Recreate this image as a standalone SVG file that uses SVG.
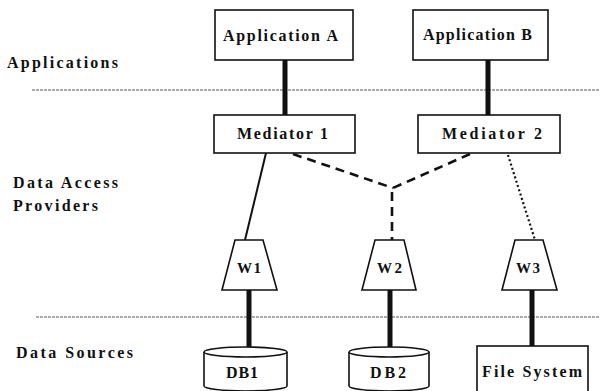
<svg xmlns="http://www.w3.org/2000/svg" width="600" height="391" viewBox="0 0 600 391">
<style>
text{font-family:"Liberation Serif","Times New Roman",serif;font-weight:bold;fill:#111}
.lbl{font-size:16px}
.box{fill:#fff;stroke:#111;stroke-width:1.6}
.sep{stroke:#555;stroke-width:1;stroke-dasharray:3,1}
.thick{stroke:#111;stroke-width:5}
.thin{stroke:#111;stroke-width:2;fill:none}
.dash{stroke:#111;stroke-width:2.6;stroke-dasharray:9,6;fill:none}
.dot{stroke:#111;stroke-width:2.2;stroke-dasharray:2,2.5;fill:none}
</style>
<rect width="600" height="391" fill="#fff"/>
<g id="layers">
<line class="sep" x1="32" y1="90" x2="600" y2="90"/>
<line class="sep" x1="36" y1="317" x2="600" y2="317"/>
<text class="lbl" x="7" y="68" font-size="17" textLength="111" lengthAdjust="spacing">Applications</text>
<text class="lbl" x="13" y="188" textLength="105" lengthAdjust="spacing">Data Access</text>
<text class="lbl" x="13" y="211" textLength="85" lengthAdjust="spacing">Providers</text>
<text class="lbl" x="16" y="358" textLength="117" lengthAdjust="spacing">Data Sources</text>
</g>
<g id="connectors">
<line class="thick" x1="285" y1="60" x2="285" y2="115"/>
<line class="thick" x1="488" y1="60" x2="488" y2="115"/>
<line class="thin" x1="266" y1="153" x2="245" y2="240"/>
<path class="dash" d="M293,154 L393,188"/>
<path class="dash" d="M470,154 L393,188"/>
<path class="dash" d="M392,192 L392,240"/>
<line class="dot" x1="508" y1="155" x2="535" y2="240"/>
<line class="thick" x1="249" y1="290" x2="249" y2="348"/>
<line class="thick" x1="390" y1="290" x2="390" y2="348"/>
<line class="thick" x1="532" y1="290" x2="532" y2="346"/>
</g>
<g id="appA">
<rect class="box" x="215" y="10" width="138" height="50"/>
<text class="lbl" x="223" y="41" textLength="115" lengthAdjust="spacing">Application A</text>
</g>
<g id="appB">
<rect class="box" x="413" y="10" width="135" height="50"/>
<text class="lbl" x="423" y="40" textLength="109" lengthAdjust="spacing">Application B</text>
</g>
<g id="med1">
<rect class="box" x="214" y="115" width="141" height="38"/>
<text class="lbl" x="237" y="139" textLength="91" lengthAdjust="spacing">Mediator 1</text>
</g>
<g id="med2">
<rect class="box" x="418" y="115" width="142" height="38"/>
<text class="lbl" x="442" y="139" textLength="100" lengthAdjust="spacing">Mediator 2</text>
</g>
<g id="w1">
<polygon class="box" points="235,240 263,240 277,290 222,290"/>
<text x="237" y="273" font-size="15" textLength="24" lengthAdjust="spacing">W1</text>
</g>
<g id="w2">
<polygon class="box" points="375,240 404,240 416,290 362,290"/>
<text x="377" y="273" font-size="15" textLength="25" lengthAdjust="spacing">W2</text>
</g>
<g id="w3">
<polygon class="box" points="515,240 543,240 557,290 502,290"/>
<text x="516" y="273" font-size="15" textLength="24" lengthAdjust="spacing">W3</text>
</g>
<g id="db1">
<path class="box" d="M204,352 L204,386 A41.5,5 0 0,0 287,386 L287,352"/>
<ellipse class="box" cx="245.5" cy="352" rx="41.5" ry="5"/>
<text class="lbl" x="226" y="378" textLength="32" lengthAdjust="spacing">DB1</text>
</g>
<g id="db2">
<path class="box" d="M349,352 L349,386 A40,5 0 0,0 429,386 L429,352"/>
<ellipse class="box" cx="389" cy="352" rx="40" ry="5"/>
<text class="lbl" x="370" y="378" textLength="36" lengthAdjust="spacing">DB2</text>
</g>
<g id="fs">
<rect class="box" x="477" y="346" width="111" height="50"/>
<text class="lbl" x="482" y="377" textLength="100" lengthAdjust="spacing">File System</text>
</g>
</svg>
